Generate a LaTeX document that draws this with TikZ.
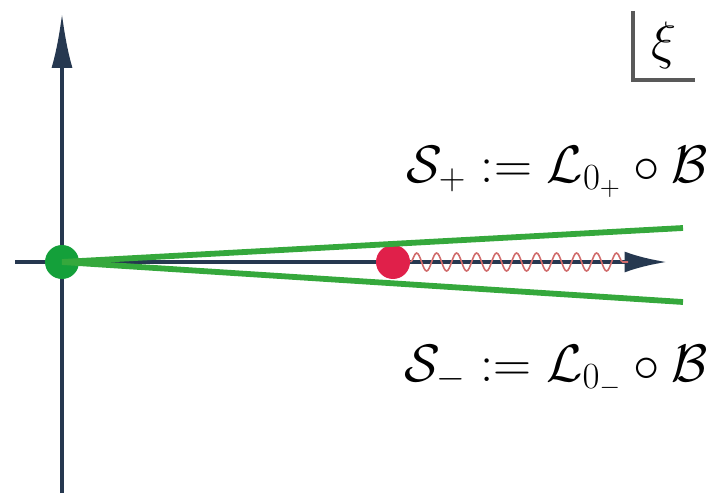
\RequirePackage{fix-cm}
\documentclass[tikz,border=0pt]{standalone}
\usepackage{amsmath}
\usepackage{tikz}
\usetikzlibrary{arrows.meta,decorations.pathmorphing}

\definecolor{axiscol}{HTML}{263850}
\definecolor{conegreen}{HTML}{35A83C}
\definecolor{dotgreen}{HTML}{14A03A}
\definecolor{dotred}{HTML}{E0204A}
\definecolor{wavered}{HTML}{D06A6A}

\begin{document}
\begin{tikzpicture}[x=0.02cm, y=-0.02cm]
  \useasboundingbox (0,0) rectangle (715,493);
  \tikzset{
    axis/.style={line width=2.3pt, draw=axiscol},
    cone/.style={line width=3.3pt, draw=conegreen},
    dot/.style={shape=circle, inner sep=0pt, minimum size=0.68cm},
    lbl/.style={font=\fontsize{30}{36}\selectfont}
  }
  % axes
  \coordinate (ybot) at (62,493);
  \coordinate (ytop) at (62,13);
  \coordinate (xleft) at (15,262);
  \coordinate (xright) at (667,262);
  \draw[axis, -{Latex[length=1.1cm, width=0.42cm]}] (ybot) -- (ytop);
  \draw[axis, -{Latex[length=0.85cm, width=0.42cm]}] (xleft) -- (xright);

  % points
  \node[dot, fill=dotred] (R) at (393,262) {};
  \node[dot, fill=dotgreen] (O) at (62,262) {};

  % cut
  \coordinate (w) at (628,262);
  \draw[wavered, line width=0.9pt, decorate,
        decoration={snake, amplitude=0.18cm, segment length=0.4cm}] (R.east) -- (w);

  % sectors
  \coordinate (up) at (683,228);
  \coordinate (dn) at (683,302);
  \path[cone] (O.center) edge (up) edge (dn);

  % labels
  \node[lbl, anchor=base east] (Splus) at (714,182) {$\mathcal{S}_+ := \mathcal{L}_{0_+}\circ\mathcal{B}$};
  \node[lbl, anchor=base east] (Sminus) at (714,381) {$\mathcal{S}_- := \mathcal{L}_{0_-}\circ\mathcal{B}$};

  % variable box
  \node[font=\fontsize{30}{36}\selectfont] (xi) at (664,45) {$\xi$};
  \draw[line width=1.8pt, draw=black!65] (633,11) -- (633,80) -- (695,80);
\end{tikzpicture}
\end{document}
